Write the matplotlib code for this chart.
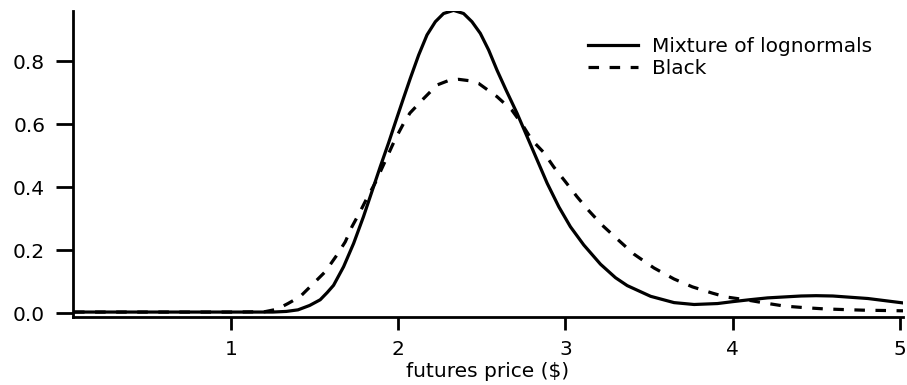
import matplotlib
matplotlib.use("Agg")
import matplotlib.pyplot as plt

# Mixture of lognormals (solid)
mix_x = [0.06, 0.5, 1.0, 1.25, 1.33, 1.40, 1.47, 1.533, 1.575, 1.613, 1.673, 1.733, 1.792,
         1.842, 1.892, 1.942, 1.992, 2.032, 2.072, 2.122, 2.172, 2.222, 2.271, 2.331, 2.391,
         2.441, 2.491, 2.541, 2.591, 2.645, 2.711, 2.771, 2.831, 2.891, 2.961, 3.03, 3.11,
         3.21, 3.30, 3.37, 3.51, 3.65, 3.77, 3.91, 4.00, 4.10, 4.21, 4.41, 4.50, 4.60, 4.81, 5.02]
mix_y = [0.003, 0.003, 0.003, 0.003, 0.005, 0.010, 0.024, 0.042, 0.065, 0.088, 0.147, 0.221, 0.306,
         0.385, 0.464, 0.540, 0.620, 0.683, 0.745, 0.819, 0.883, 0.925, 0.951, 0.961, 0.951,
         0.925, 0.888, 0.835, 0.771, 0.708, 0.634, 0.560, 0.486, 0.412, 0.337, 0.274, 0.216,
         0.155, 0.112, 0.087, 0.053, 0.033, 0.027, 0.030, 0.036, 0.042, 0.048, 0.054, 0.055, 0.054, 0.046, 0.032]

# Black (dashed)
blk_x = [0.06, 0.5, 1.0, 1.20, 1.275, 1.34, 1.413, 1.493, 1.563, 1.633, 1.683, 1.723, 1.772,
         1.812, 1.862, 1.92, 1.98, 2.03, 2.07, 2.152, 2.232, 2.30, 2.361, 2.42, 2.481, 2.591,
         2.68, 2.74, 2.80, 2.87, 2.93, 3.00, 3.07, 3.14, 3.22, 3.31, 3.41, 3.53, 3.65, 3.76,
         3.88, 3.96, 4.08, 4.19, 4.31, 4.43, 4.55, 4.66, 4.78, 5.02]
blk_y = [0.003, 0.003, 0.003, 0.004, 0.012, 0.030, 0.052, 0.094, 0.131, 0.184, 0.226, 0.274, 0.322,
         0.364, 0.413, 0.480, 0.550, 0.600, 0.635, 0.681, 0.724, 0.738, 0.742, 0.738, 0.729, 0.687,
         0.644, 0.600, 0.549, 0.510, 0.464, 0.417, 0.369, 0.325, 0.279, 0.235, 0.187, 0.143, 0.108, 0.083,
         0.063, 0.051, 0.042, 0.032, 0.022, 0.017, 0.013, 0.011, 0.009, 0.007]

x_ticks = [1, 2, 3, 4, 5]
y_ticks = [0.0, 0.2, 0.4, 0.6, 0.8]
x_label = "futures price ($)"
series_labels = ["Mixture of lognormals", "Black"]

plt.rcParams['font.family'] = ['DejaVu Sans']

fig = plt.figure(figsize=(9.07, 3.85), dpi=100)
ax = fig.add_axes([73/907, 1-317/385, (903-73)/907, (317-11)/385])

ax.plot(mix_x, mix_y, color='black', lw=2.3, solid_joinstyle='round', label=series_labels[0])
ax.plot(blk_x, blk_y, color='black', lw=2.3, linestyle=(0, (3.3, 3.3)), label=series_labels[1])

ax.set_xlim(0.054, 5.02)
ax.set_ylim(-0.0127, 0.959)
ax.set_xticks(x_ticks)
ax.set_yticks(y_ticks)
ax.set_yticklabels([f"{v:.1f}" for v in y_ticks])
ax.set_xticklabels([str(v) for v in x_ticks])

for s in ['top', 'right']:
    ax.spines[s].set_visible(False)
for s in ['left', 'bottom']:
    ax.spines[s].set_linewidth(2.0)

ax.tick_params(axis='y', length=12, width=2.0, pad=8, labelsize=14.5)
ax.tick_params(axis='x', length=9.5, width=2.0, pad=7, labelsize=14.5)
ax.set_xlabel(x_label, fontsize=14.5, labelpad=2)

leg = ax.legend(loc='upper right', bbox_to_anchor=(0.985, 0.975), frameon=False, fontsize=14.5,
                handlelength=2.5, handletextpad=0.7, labelspacing=0.15)

fig.savefig("out.png", dpi=100)
